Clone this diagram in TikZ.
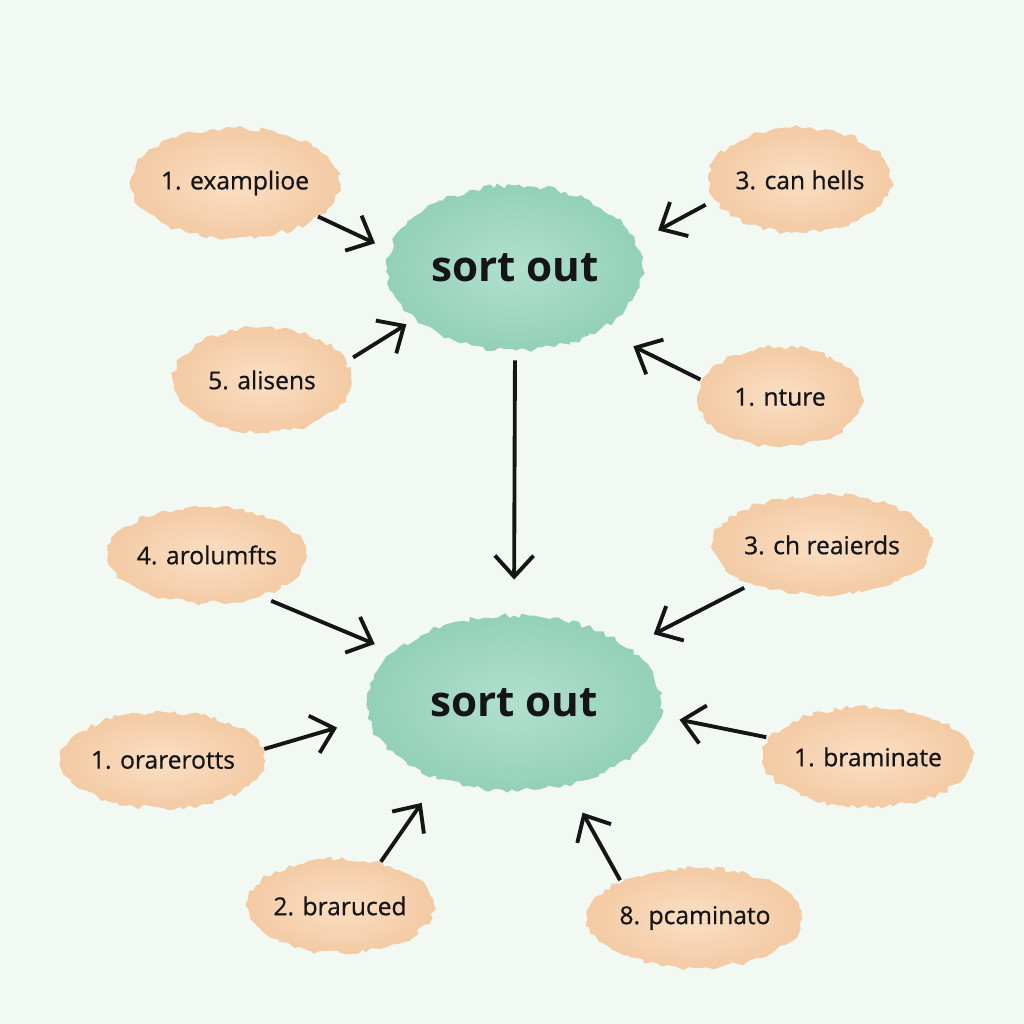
\documentclass[tikz,border=0pt]{standalone}
\usepackage{fontspec}
\setmainfont{Open Sans}
\newfontfamily\lblfont{Open Sans}[FakeBold=0.7]
\usetikzlibrary{arrows.meta,decorations.pathmorphing,shapes.geometric}
\definecolor{bg}{HTML}{F2F9F3}
\definecolor{ink}{HTML}{151515}
\definecolor{peachin}{HTML}{FADFC4}
\definecolor{peachout}{HTML}{F3CAA3}
\definecolor{mintin}{HTML}{B1E0CE}
\definecolor{mintout}{HTML}{93D0B9}
\begin{document}
\pgfmathsetseed{7}
\begin{tikzpicture}[
	x=0.02cm, y=-0.02cm,
	blob/.style={
		ellipse, inner sep=0pt, outer sep=0pt,
		inner color=peachin, outer color=peachout,
		decorate, decoration={random steps, segment length=3pt, amplitude=1.5pt},
		font=\lblfont\fontsize{14}{16}\selectfont, text=ink
	},
	hub/.style={blob, inner color=mintin, outer color=mintout,
		font=\fontsize{24}{28}\selectfont\bfseries},
	arr/.style={-{Straight Barb[length=12pt,width=22pt]}, line width=2.2pt, draw=ink}
]

\fill[bg] (0,0) rectangle (1024,1024);
\useasboundingbox (0,0) rectangle (1024,1024);

\node[hub, minimum width=5.1cm,  minimum height=3.3cm] (top) at (515,268) {sort out};
\node[hub, minimum width=5.9cm,  minimum height=3.5cm] (bot) at (514,703) {sort out};

\node[blob, minimum width=3.85cm, minimum height=2.2cm]  (ex)    at (235,183) {1. examplioe};
\node[blob, minimum width=3.3cm,  minimum height=2.1cm]  (hells) at (800,180) {3. can hells};
\node[blob, minimum width=3.55cm, minimum height=2.1cm]  (alis)  at (262,380) {5. alisens};
\node[blob, minimum width=3.3cm,  minimum height=2cm]    (nture) at (780,397) {1. nture};
\node[blob, minimum width=3.55cm, minimum height=1.92cm] (arol)  at (207,555) {4. arolumfts};
\node[blob, minimum width=3.55cm, minimum height=2cm]    (reai)  at (822,545) {3. ch reaierds};
\node[blob, minimum width=3.65cm, minimum height=1.92cm] (orar)  at (163,760) {1. orarerotts};
\node[blob, minimum width=3.55cm, minimum height=2cm]    (bram)  at (868,757) {1. braminate};
\node[blob, minimum width=3.1cm,  minimum height=1.88cm] (brar)  at (340,906) {2. braruced};
\node[blob, minimum width=3.3cm,  minimum height=2cm]    (pcam)  at (695,918) {8. pcaminato};

\draw[arr, shorten >=0.34cm] (ex.-22) -- (top.172);
\draw[arr, shorten <=0.22cm, shorten >=0.5cm] (hells.193) -- (top.12);
\draw[arr, shorten <=0.18cm, shorten >=0.2cm] (alis.12) -- (top.207);
\draw[arr, shorten <=0.04cm, shorten >=0.75cm] (nture.168) -- (top.-36);
\draw[arr, shorten <=0.2cm, shorten >=0.72cm] (top.-90) -- (bot.90);
\draw[arr, shorten <=0.26cm, shorten >=0.42cm] (arol.-38) -- (bot.157);
\draw[arr, shorten <=0.18cm, shorten >=0.58cm] (reai.209) -- (bot.26);
\draw[arr, shorten <=0.04cm, shorten >=0.66cm] (orar.6) -- (bot.186);
\draw[arr, shorten <=0.1cm, shorten >=0.4cm] (bram.169) -- (bot.-5);
\draw[arr, shorten <=0.04cm, shorten >=0.6cm] (brar.47) -- (bot.225);
\draw[arr, shorten <=0.04cm, shorten >=0.64cm] (pcam.154) -- (bot.-57);

\end{tikzpicture}
\end{document}
